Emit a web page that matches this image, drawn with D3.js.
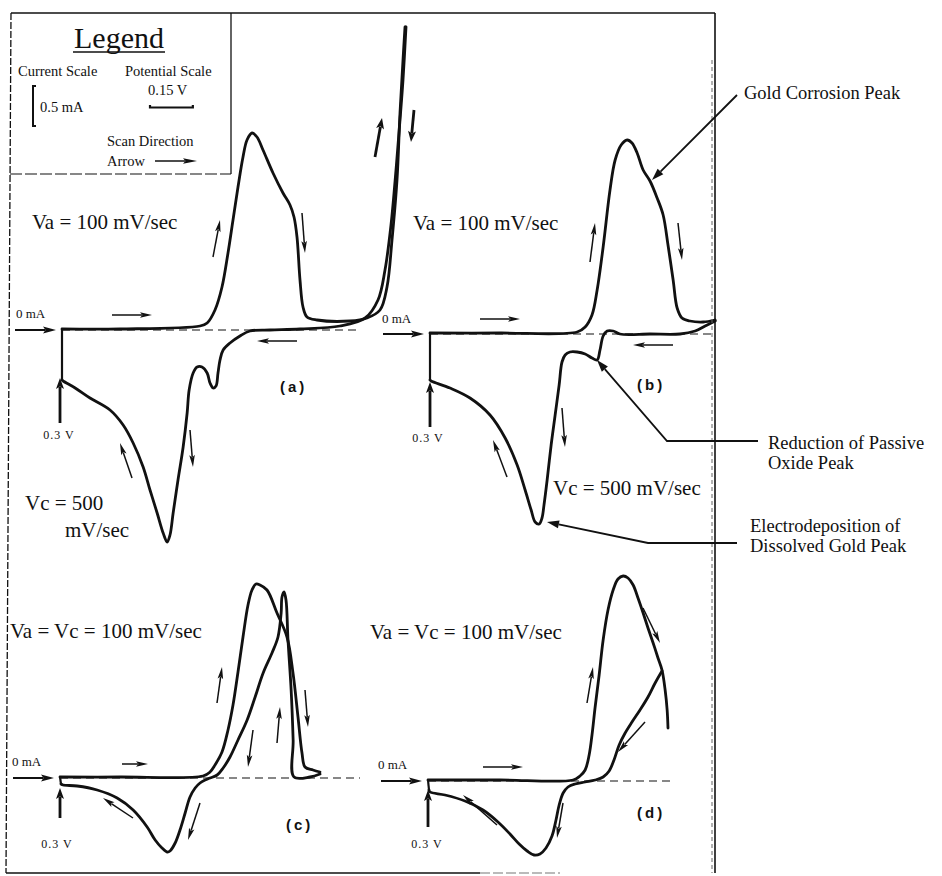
<!DOCTYPE html>
<html>
<head>
<meta charset="utf-8">
<script src="https://cdn.jsdelivr.net/npm/d3@7/dist/d3.min.js"></script>
<style>
  html, body { margin: 0; padding: 0; background: #ffffff; }
  svg { display: block; }
</style>
</head>
<body>
<script>
// Cyclic voltammograms of gold: potential (V) and current (mA) for each scan.

// (a) Va = 100 mV/sec, Vc = 500 mV/sec
const aAnodicV = [0.300,0.503,0.783,0.808,0.8355,0.860,0.881,0.8985,0.916,0.9335,0.9475,0.965,0.9825,1.0035,1.0385,1.0735,1.098,1.112,1.1225,1.133,1.1435,1.1575,1.1925,1.308,1.3675,1.413,1.4375,1.455,1.4725,1.483,1.4935,1.5005];
const aAnodicI = [0.0125,0.0125,0.05,0.0875,0.25,0.5375,0.9625,1.375,1.7875,2.1625,2.375,2.4625,2.4125,2.25,1.9625,1.7125,1.5625,1.4125,1.1625,0.625,0.2875,0.1625,0.125,0.1125,0.15,0.25,0.5375,1.125,1.875,2.7125,3.375,3.7875];
const aCathodicV = [1.504,1.4935,1.483,1.469,1.4515,1.4305,1.406,1.361,1.273,1.133,1.028,0.958,0.923,0.888,0.864,0.853,0.846,0.839,0.829,0.818,0.808,0.790,0.773,0.759,0.745,0.738,0.724,0.706,0.689,0.678,0.668,0.654,0.633,0.608,0.584,0.549,0.514,0.468,0.398,0.346,0.304,0.300];
const aCathodicI = [3.79,3.125,2.625,2.0,1.3125,0.75,0.375,0.15,0.05,0.0125,0,-0.0125,-0.075,-0.1625,-0.25,-0.375,-0.5375,-0.70,-0.725,-0.6625,-0.5375,-0.4625,-0.4625,-0.5375,-0.75,-1.0375,-1.4625,-1.875,-2.2875,-2.5625,-2.65,-2.5375,-2.2875,-2.0,-1.7125,-1.4125,-1.1875,-1.0,-0.85,-0.725,-0.6375,-0.625];

// (b) Va = 100 mV/sec, Vc = 500 mV/sec, lower reversal potential
const bAnodicV = [0.300,0.545,0.815,0.843,0.867,0.885,0.906,0.930,0.948,0.969,0.990,1.007,1.025,1.046,1.070,1.095,1.116,1.133,1.151,1.165,1.182,1.210,1.256,1.298];
const bAnodicI = [0.0125,0.0125,0.025,0.0875,0.2375,0.55,1.0875,1.80,2.175,2.3625,2.425,2.3875,2.2625,2.05,1.9125,1.70,1.4875,1.1125,0.675,0.325,0.20,0.1625,0.15,0.175];
const bCathodicV = [1.298,1.263,1.228,1.175,1.070,0.965,0.941,0.920,0.906,0.895,0.885,0.867,0.843,0.815,0.790,0.773,0.762,0.752,0.738,0.724,0.710,0.699,0.692,0.682,0.668,0.654,0.633,0.605,0.563,0.510,0.440,0.370,0.304,0.300];
const bCathodicI = [0.1625,0.10,0.0375,0,0,0,0.0375,0.0375,-0.025,-0.20,-0.325,-0.30,-0.25,-0.225,-0.225,-0.2625,-0.35,-0.6375,-1.0125,-1.3875,-1.825,-2.1375,-2.30,-2.375,-2.35,-2.20,-1.95,-1.6375,-1.30,-1.0125,-0.80,-0.675,-0.5875,-0.575];

// (c) Va = Vc = 100 mV/sec
const cAnodicV = [0.300,0.510,0.8005,0.825,0.8425,0.867,0.888,0.9055,0.923,0.9405,0.958,0.972,0.986,1.000,1.0245,1.0595,1.0945,1.1155,1.133,1.147,1.1575,1.1855,1.210];
const cAnodicI = [0.0125,0.0125,0.025,0.075,0.1625,0.325,0.60,0.9125,1.325,1.7625,2.1625,2.35,2.425,2.4125,2.35,2.0625,1.7625,1.3125,0.7625,0.3125,0.1375,0.10,0.075];
const cCathodicV = [1.210,1.175,1.119,1.116,1.109,1.098,1.091,1.084,1.077,1.074,1.063,1.042,1.011,0.983,0.955,0.923,0.895,0.871,0.850,0.825,0.808,0.790,0.773,0.755,0.738,0.720,0.703,0.685,0.675,0.657,0.633,0.605,0.556,0.500,0.430,0.360,0.311,0.3035];
const cCathodicI = [0.05,0.0125,0.0125,0.475,1.10,1.725,2.225,2.325,2.2625,2.0625,1.7625,1.5625,1.3125,1.0125,0.725,0.475,0.2625,0.125,0.0375,0,-0.025,-0.0625,-0.125,-0.2375,-0.4375,-0.65,-0.8125,-0.9125,-0.925,-0.875,-0.775,-0.6125,-0.40,-0.25,-0.15,-0.10,-0.0875,-0.075];

// (d) Va = Vc = 100 mV/sec, reversed on the falling side of the peak
const dAnodicV = [0.300,0.552,0.808,0.832,0.850,0.864,0.874,0.885,0.899,0.913,0.930,0.948,0.965,0.983,1.000,1.018,1.035,1.053,1.070,1.088,1.105,1.119,1.130,1.137,1.140];
const dAnodicI = [0.0125,0.0125,0.0125,0.0625,0.1375,0.325,0.575,0.925,1.325,1.7625,2.1375,2.3875,2.525,2.5625,2.5375,2.45,2.2875,2.10,1.9125,1.725,1.5375,1.3875,1.1375,0.8875,0.6625];
const dCathodicV = [1.119,1.095,1.070,1.042,1.014,0.990,0.969,0.951,0.934,0.913,0.885,0.850,0.815,0.790,0.773,0.759,0.748,0.734,0.713,0.692,0.671,0.647,0.619,0.587,0.545,0.4925,0.4295,0.3595,0.307,0.3035];
const dCathodicI = [1.375,1.225,1.05,0.8875,0.7375,0.60,0.45,0.2625,0.125,0.05,0.0125,-0.0125,-0.0375,-0.075,-0.15,-0.30,-0.4875,-0.6875,-0.8375,-0.9125,-0.925,-0.875,-0.7875,-0.6625,-0.5125,-0.3625,-0.25,-0.175,-0.1375,-0.1125];

// Scan-direction arrows, [V tail, mA tail, V head, mA head]
const aArrows = [[0.475,0.1875,0.615,0.1875],[0.8285,0.9125,0.853,1.375],[1.140,1.4625,1.1505,0.9625],[1.1225,-0.1375,0.9825,-0.1375],[0.748,-1.25,0.7585,-1.7125],[0.545,-1.85,0.503,-1.4125]];
const aHeavyArrows = [[1.3955,2.1625,1.420,2.65],[1.532,2.75,1.5215,2.35],[0.293,-1.1625,0.293,-0.60]];
const bArrows = [[0.475,0.1875,0.615,0.1875],[0.860,0.90,0.8775,1.3875],[1.168,1.3875,1.182,0.925],[1.1505,-0.1375,1.0105,-0.1375],[0.762,-0.925,0.7725,-1.4125],[0.5695,-1.7875,0.5205,-1.325]];
const bHeavyArrows = [[0.300,-1.1625,0.300,-0.60]];
const cArrows = [[0.517,0.175,0.608,0.175],[0.8495,0.9375,0.867,1.3875],[1.0595,0.4375,1.070,0.8875],[1.1575,1.10,1.168,0.6375],[0.9755,0.60,0.958,0.1375],[0.5555,-0.50,0.4505,-0.25],[0.790,-0.3125,0.748,-0.775]];
const cHeavyArrows = [[0.300,-0.50,0.300,-0.125]];
const dArrows = [[0.4925,0.175,0.6325,0.175],[0.8565,0.975,0.8775,1.425],[1.0525,2.1625,1.112,1.725],[1.0595,0.7375,0.965,0.3625],[0.7725,-0.275,0.7515,-0.7125],[0.5415,-0.55,0.4225,-0.175]];
const dHeavyArrows = [[0.300,-0.575,0.300,-0.1125]];

// Peaks called out on panel (b), [V, mA]
const bCallouts = [
  { label: ["Gold Corrosion Peak"], at: [1.077, 1.925] },
  { label: ["Reduction of Passive", "Oxide Peak"], at: [0.8845, -0.325] },
  { label: ["Electrodeposition of", "Dissolved Gold Peak"], at: [0.7095, -2.35] }
];

// Legend scale bars
const legendCurrent = 0.5;   // mA
const legendPotential = 0.15; // V

// ---------------------------------------------------------------------
const W = 942, H = 876;
const ink = "#111";
const serif = "'Liberation Serif', 'Times New Roman', serif";
const sans = "'Liberation Sans', Arial, sans-serif";
const VOLT_PX = 0.0035;   // V per pixel
const MA_PX = 80;         // pixels per mA

const svg = d3.select("body").append("svg")
  .attr("width", W).attr("height", H)
  .attr("viewBox", `0 0 ${W} ${H}`);

function makeScales(x0, y0) {
  const x = d3.scaleLinear().domain([0.3, 1.5]).range([x0, x0 + 1.2 / VOLT_PX]);
  const y = d3.scaleLinear().domain([0, 1]).range([y0, y0 - MA_PX]);
  return { x, y };
}

function zip(vs, is) { return vs.map((v, k) => [v, is[k]]); }

function arrow(g, x1, y1, x2, y2, o = {}) {
  const w = o.w ?? 1.5, hl = o.hl ?? 11, hw = o.hw ?? 3;
  const dx = x2 - x1, dy = y2 - y1, L = Math.hypot(dx, dy);
  const ux = dx / L, uy = dy / L;
  const bx = x2 - ux * hl, by = y2 - uy * hl;
  g.append("line")
    .attr("x1", x1).attr("y1", y1).attr("x2", bx + ux * 2).attr("y2", by + uy * 2)
    .attr("stroke", ink).attr("stroke-width", w).attr("stroke-linecap", "butt");
  g.append("path")
    .attr("d", `M${x2},${y2}L${bx - uy * hw},${by + ux * hw}L${bx + ux * 2.5},${by + uy * 2.5}L${bx + uy * hw},${by - ux * hw}Z`)
    .attr("fill", ink);
}

// Panels: placement of the (0.3 V, 0 mA) origin and the texts
const panels = [
  { key: "a", x0: 62, y0: 330, baseEnd: 1.33,
    anodic: zip(aAnodicV, aAnodicI), cathodic: zip(aCathodicV, aCathodicI),
    arrows: aArrows, heavy: aHeavyArrows,
    zeroLabel: [16, 318], potLabel: [59, 439], tag: [280, 392] },
  { key: "b", x0: 430, y0: 334, baseEnd: 1.29,
    anodic: zip(bAnodicV, bAnodicI), cathodic: zip(bCathodicV, bCathodicI),
    arrows: bArrows, heavy: bHeavyArrows,
    zeroLabel: [382, 323], potLabel: [428, 442], tag: [637, 390] },
  { key: "c", x0: 60, y0: 778, baseEnd: 1.35,
    anodic: zip(cAnodicV, cAnodicI), cathodic: zip(cCathodicV, cCathodicI),
    arrows: cArrows, heavy: cHeavyArrows,
    zeroLabel: [12, 766], potLabel: [57, 848], tag: [286, 830] },
  { key: "d", x0: 428, y0: 781, baseEnd: 1.154,
    anodic: zip(dAnodicV, dAnodicI), cathodic: zip(dCathodicV, dCathodicI),
    arrows: dArrows, heavy: dHeavyArrows,
    zeroLabel: [378, 769], potLabel: [427, 848], tag: [637, 818] }
];

panels.forEach(p => {
  const { x, y } = makeScales(p.x0, p.y0);
  p.x = x; p.y = y;
  const g = svg.append("g").attr("class", "panel-" + p.key);

  // zero-current reference
  g.append("line")
    .attr("x1", x(0.3)).attr("x2", x(p.baseEnd))
    .attr("y1", y(0)).attr("y2", y(0))
    .attr("stroke", ink).attr("stroke-width", 1.1)
    .attr("stroke-dasharray", "8,5");

  const smooth = d3.line().x(d => x(d[0])).y(d => y(d[1])).curve(d3.curveCatmullRom.alpha(0.5));
  const straight = d3.line().x(d => x(d[0])).y(d => y(d[1]));

  [p.anodic, p.cathodic].forEach(pts => {
    g.append("path").attr("d", smooth(pts))
      .attr("fill", "none").attr("stroke", ink)
      .attr("stroke-width", 2.8).attr("stroke-linejoin", "round").attr("stroke-linecap", "round");
  });
  // return to the starting potential closes the cycle
  g.append("path").attr("d", straight([p.cathodic[p.cathodic.length - 1], p.anodic[0]]))
    .attr("fill", "none").attr("stroke", ink).attr("stroke-width", 2.2);

  p.arrows.forEach(a => arrow(g, x(a[0]), y(a[1]), x(a[2]), y(a[3]), { w: 1.5, hl: 12, hw: 2.8 }));
  p.heavy.forEach(a => arrow(g, x(a[0]), y(a[1]), x(a[2]), y(a[3]), { w: 2.8, hl: 11, hw: 4 }));

  // 0 mA marker arrow leading into the starting point
  arrow(g, x(0.3) - 47, y(0), x(0.3) - 6, y(0), { w: 2, hl: 13, hw: 3.5 });

  g.append("text").attr("x", p.zeroLabel[0]).attr("y", p.zeroLabel[1])
    .attr("font-family", serif).attr("font-size", 13).attr("fill", ink).text("0 mA");
  g.append("text").attr("x", p.potLabel[0]).attr("y", p.potLabel[1])
    .attr("text-anchor", "middle").attr("letter-spacing", 1)
    .attr("font-family", serif).attr("font-size", 12).attr("fill", ink).text("0.3 V");
  g.append("text").attr("x", p.tag[0]).attr("y", p.tag[1])
    .attr("font-family", sans).attr("font-size", 15).attr("font-weight", "bold")
    .attr("letter-spacing", 3).attr("fill", ink).text(`(${p.key})`);
});

// Sweep-rate labels
const rateLabels = [
  { t: "Va = 100 mV/sec", x: 32, y: 229 },
  { t: "Vc = 500", x: 25, y: 510 },
  { t: "mV/sec", x: 65, y: 537 },
  { t: "Va = 100 mV/sec", x: 413, y: 230 },
  { t: "Vc = 500 mV/sec", x: 553, y: 495 },
  { t: "Va = Vc = 100 mV/sec", x: 10, y: 638 },
  { t: "Va = Vc = 100 mV/sec", x: 370, y: 639 }
];
svg.append("g").selectAll("text").data(rateLabels).join("text")
  .attr("x", d => d.x).attr("y", d => d.y)
  .attr("font-family", serif).attr("font-size", 21).attr("fill", ink)
  .text(d => d.t);

// Frame
const frame = svg.append("g").attr("stroke", ink).attr("fill", "none");
frame.append("line").attr("x1", 11).attr("y1", 13).attr("x2", 715).attr("y2", 13).attr("stroke-width", 1.6);
frame.append("line").attr("x1", 11).attr("y1", 13).attr("x2", 6).attr("y2", 873)
  .attr("stroke-width", 1.3).attr("stroke-dasharray", "7,2");
frame.append("line").attr("x1", 715).attr("y1", 13).attr("x2", 715).attr("y2", 873).attr("stroke-width", 1.6);
frame.append("line").attr("x1", 712).attr("y1", 60).attr("x2", 712).attr("y2", 873)
  .attr("stroke-width", 1).attr("stroke", "#666").attr("stroke-dasharray", "4,3");
frame.append("line").attr("x1", 6).attr("y1", 873).attr("x2", 480).attr("y2", 873).attr("stroke-width", 1.6);
frame.append("line").attr("x1", 480).attr("y1", 873).attr("x2", 560).attr("y2", 873)
  .attr("stroke-width", 1.2).attr("stroke", "#777").attr("stroke-dasharray", "10,3");

// Legend
const lg = svg.append("g");
lg.append("line").attr("x1", 231).attr("y1", 13).attr("x2", 231).attr("y2", 174)
  .attr("stroke", ink).attr("stroke-width", 1.3);
lg.append("line").attr("x1", 10).attr("y1", 174).attr("x2", 231).attr("y2", 174)
  .attr("stroke", ink).attr("stroke-width", 1.2).attr("stroke-dasharray", "12,3");
lg.append("text").attr("x", 119).attr("y", 48).attr("text-anchor", "middle")
  .attr("font-family", serif).attr("font-size", 30).attr("fill", ink).text("Legend");
lg.append("line").attr("x1", 73).attr("x2", 165).attr("y1", 52).attr("y2", 52)
  .attr("stroke", ink).attr("stroke-width", 1.6);
const legendText = [
  { t: "Current Scale", x: 18, y: 76 },
  { t: "Potential Scale", x: 125, y: 76 },
  { t: "0.15 V", x: 148, y: 95 },
  { t: "0.5 mA", x: 40, y: 112 },
  { t: "Scan Direction", x: 107, y: 146 },
  { t: "Arrow", x: 107, y: 166 }
];
lg.selectAll("text.item").data(legendText).join("text").attr("class", "item")
  .attr("x", d => d.x).attr("y", d => d.y)
  .attr("font-family", serif).attr("font-size", 14.5).attr("fill", ink).text(d => d.t);
// current scale bracket, drawn with the same mA scale as the panels
const iLen = legendCurrent * MA_PX;
lg.append("path").attr("d", `M36,86 L33,86 L33,${86 + iLen} L36,${86 + iLen}`)
  .attr("fill", "none").attr("stroke", ink).attr("stroke-width", 2);
// potential scale bar
const vLen = legendPotential / VOLT_PX;
lg.append("path").attr("d", `M150,105 L150,107.5 L${150 + vLen},107.5 L${150 + vLen},105`)
  .attr("fill", "none").attr("stroke", ink).attr("stroke-width", 2.2);
arrow(lg, 155, 161, 197, 161, { w: 1.5, hl: 14, hw: 2.8 });

// Call-outs on panel (b)
const pb = panels[1];
const callG = svg.append("g");
const callLayout = [
  { elbow: null, end: [737, 95], text: [744, 99] },
  { elbow: [667, 441], end: [758, 441], text: [768, 449] },
  { elbow: [648, 543], end: [737, 543], text: [750, 532] }
];
bCallouts.forEach((c, k) => {
  const L = callLayout[k];
  const tx = pb.x(c.at[0]), ty = pb.y(c.at[1]);
  const pts = L.elbow ? [[tx, ty], L.elbow, L.end] : [[tx, ty], L.end];
  const first = pts[1];
  const dx = first[0] - tx, dy = first[1] - ty, len = Math.hypot(dx, dy);
  const ux = dx / len, uy = dy / len;
  const hl = 12, hw = 4;
  callG.append("path").attr("d", d3.line()(pts.map((q, i) => i === 0 ? [tx + ux * hl, ty + uy * hl] : q)))
    .attr("fill", "none").attr("stroke", ink).attr("stroke-width", 1.8);
  callG.append("path")
    .attr("d", `M${tx},${ty}L${tx + ux * hl - uy * hw},${ty + uy * hl + ux * hw}L${tx + ux * hl + uy * hw},${ty + uy * hl - ux * hw}Z`)
    .attr("fill", ink);
  c.label.forEach((line, j) => {
    callG.append("text").attr("x", L.text[0]).attr("y", L.text[1] + j * 20)
      .attr("font-family", serif).attr("font-size", 18.5).attr("fill", ink).text(line);
  });
});
</script>
</body>
</html>
